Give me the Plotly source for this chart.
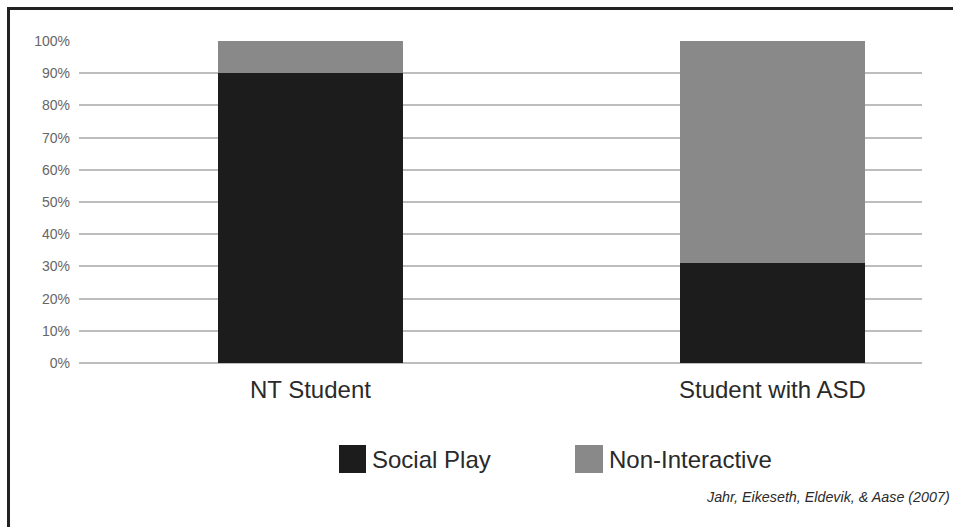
import plotly.graph_objects as go

categories = ["NT Student", "Student with ASD"]
series_names = ["Social Play", "Non-Interactive"]
social_play = [90, 31]
non_interactive = [10, 69]
series_colors = ["#1c1c1c", "#898989"]
tick_vals = [0, 10, 20, 30, 40, 50, 60, 70, 80, 90, 100]
tick_text = [f"{v}%" for v in tick_vals]
citation = "Jahr, Eikeseth, Eldevik, & Aase (2007)"

W, H = 953, 527
L, R, T, B = 79, 31, 41, 164
pw, ph = W - L - R, H - T - B

def px(x):
    return (x - L) / pw

def py(y):
    return (H - B - y) / ph

fig = go.Figure()
for name, vals, col in zip(series_names, [social_play, non_interactive], series_colors):
    fig.add_trace(go.Bar(x=[0, 1], y=vals, name=name, marker=dict(color=col, line=dict(width=0)),
                         width=0.4, showlegend=False))

font = "Liberation Sans, Arial, Helvetica, sans-serif"

fig.update_layout(
    width=W, height=H, barmode="stack",
    margin=dict(l=L, r=R, t=T, b=B),
    paper_bgcolor="white", plot_bgcolor="white",
    font=dict(family=font),
    xaxis=dict(range=[-0.501, 1.324], tickvals=[0, 1], ticktext=categories,
               showgrid=False, zeroline=False, showline=False,
               tickfont=dict(size=24, color="#2a2a2a"), ticks="", ticklabelstandoff=10),
    yaxis=dict(range=[0, 100], tickvals=tick_vals, ticktext=tick_text,
               showgrid=True, gridcolor="#bdbdbd", gridwidth=2,
               zeroline=True, zerolinecolor="#bdbdbd", zerolinewidth=2,
               showline=False, ticks="", ticklabelstandoff=8,
               tickfont=dict(size=14, color="#666666")),
)

# frame (top and left edges only visible)
fig.add_shape(type="line", xref="paper", yref="paper",
              x0=px(8), x1=px(960), y0=py(8.5), y1=py(8.5),
              line=dict(color="#222222", width=3), layer="above")
fig.add_shape(type="line", xref="paper", yref="paper",
              x0=px(8.5), x1=px(8.5), y0=py(7), y1=py(540),
              line=dict(color="#222222", width=3), layer="above")

# custom legend
leg_items = [(339, 366), (575, 603)]
for (x0, x1), name, col in zip(leg_items, series_names, series_colors):
    fig.add_shape(type="rect", xref="paper", yref="paper",
                  x0=px(x0), x1=px(x1), y0=py(473), y1=py(445),
                  line=dict(width=0), fillcolor=col)
    fig.add_annotation(xref="paper", yref="paper", x=px(x1 + 4), y=py(459),
                       text=name, showarrow=False, xanchor="left", yanchor="middle",
                       font=dict(size=24, color="#2a2a2a", family=font))

fig.add_annotation(xref="paper", yref="paper", x=px(952), y=py(497),
                   text=f"<i>{citation}</i>", showarrow=False, xanchor="right", yanchor="middle",
                   font=dict(size=14.3, color="#2a2a2a", family=font))

fig.write_html("out.html")
